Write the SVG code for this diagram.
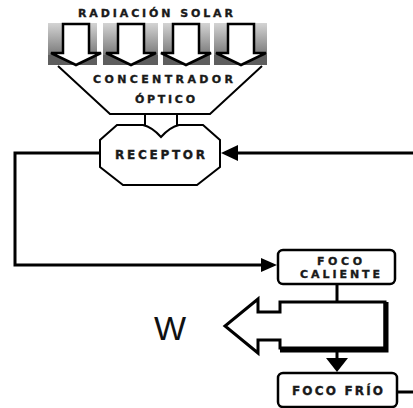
<svg xmlns="http://www.w3.org/2000/svg" width="413" height="408" viewBox="0 0 413 408">
<defs>
<linearGradient id="panelGrad" x1="0" y1="0" x2="0" y2="1">
<stop offset="0" stop-color="#d4d4d4"/>
<stop offset="1" stop-color="#7a7a7a"/>
</linearGradient>
<style>
.lbl{font-family:"DejaVu Sans","Liberation Sans",Arial,sans-serif;font-weight:bold;fill:#1a1a1a;stroke:#1a1a1a;stroke-width:0.35;text-anchor:start}
.ln{stroke:#000;stroke-width:3;fill:none}
.box{fill:#fff;stroke:#000;stroke-width:2.5}
.sun{fill:#fff;stroke:#000;stroke-width:2.5;stroke-linejoin:miter}
</style>
</defs>
<rect width="413" height="408" fill="#fff"/>

<g id="radiacion-solar">
<text class="lbl" x="78" y="17" font-size="11" textLength="155" lengthAdjust="spacing">RADIACIÓN SOLAR</text>
<rect x="48" y="23" width="49" height="32" fill="url(#panelGrad)"/>
<rect x="103" y="23" width="55" height="32" fill="url(#panelGrad)"/>
<rect x="163" y="23" width="47" height="32" fill="url(#panelGrad)"/>
<rect x="214" y="23" width="53" height="32" fill="url(#panelGrad)"/>
<rect x="48" y="55" width="49" height="10" fill="#5e5e5e"/>
<rect x="103" y="55" width="55" height="10" fill="#5e5e5e"/>
<rect x="163" y="55" width="47" height="10" fill="#5e5e5e"/>
<rect x="214" y="55" width="53" height="10" fill="#5e5e5e"/>
<path class="sun" d="M63,24 H89 V53 H101 L76,65 L51,53 H63 Z"/>
<path class="sun" d="M118,24 H144 V53 H156 L131,65 L106,53 H118 Z"/>
<path class="sun" d="M173,24 H199 V53 H211 L186,65 L161,53 H173 Z"/>
<path class="sun" d="M228,24 H254 V53 H266 L241,65 L216,53 H228 Z"/>
</g>

<g id="concentrador">
<path d="M58,66 L110,114 H210 L262,66" fill="none" stroke="#000" stroke-width="2"/>
<text class="lbl" x="93" y="83" font-size="11" textLength="140" lengthAdjust="spacing">CONCENTRADOR</text>
<text class="lbl" x="135" y="103" font-size="11" textLength="60" lengthAdjust="spacing">ÓPTICO</text>
</g>

<g id="receptor">
<path d="M145,114 V127 M177,114 V127" stroke="#000" stroke-width="2" fill="none"/>
<path d="M117,125 H143 Q152,127 161,137 Q170,127 179,125 H203 L220,140 V167 L197,185 H123 L100,167 V140 Z" fill="#fff" stroke="#000" stroke-width="2"/>
<text class="lbl" x="115" y="159" font-size="12" textLength="90" lengthAdjust="spacing">RECEPTOR</text>
</g>

<g id="connectors">
<polyline class="ln" points="100,153 15,153 15,265 262,265"/>
<polygon points="277,265 261,258 261,272" fill="#000"/>
<line class="ln" x1="413" y1="153" x2="236" y2="153"/>
<polygon points="221,153 238,145 238,161" fill="#000"/>
<line class="ln" x1="337" y1="284" x2="337" y2="303"/>
<line class="ln" x1="337" y1="348" x2="337" y2="359"/>
<polygon points="326,358 348,358 337,372" fill="#000"/>
<line class="ln" x1="397" y1="392" x2="413" y2="392"/>
</g>

<g id="foco-caliente">
<rect class="box" x="278" y="250" width="117" height="34" rx="5"/>
<text class="lbl" x="317" y="265" font-size="11" textLength="45" lengthAdjust="spacing">FOCO</text>
<text class="lbl" x="300" y="278" font-size="11" textLength="80" lengthAdjust="spacing">CALIENTE</text>
</g>

<g id="trabajo">
<path d="M385,302 H280 V312 H258 V299 L225,326 L258,353 V340 H280 V348 H385 Z" fill="#fff" stroke="#000" stroke-width="3" stroke-linejoin="miter"/>
<path d="M386,302 V350 H280" fill="none" stroke="#000" stroke-width="5"/>
<text x="170" y="340" font-family="'Liberation Sans',Arial,sans-serif" font-size="34" text-anchor="middle" fill="#111">W</text>
</g>

<g id="foco-frio">
<rect class="box" x="278" y="373" width="119" height="34" rx="5"/>
<text class="lbl" x="292" y="395" font-size="12" textLength="91" lengthAdjust="spacing">FOCO FRÍO</text>
</g>
</svg>
